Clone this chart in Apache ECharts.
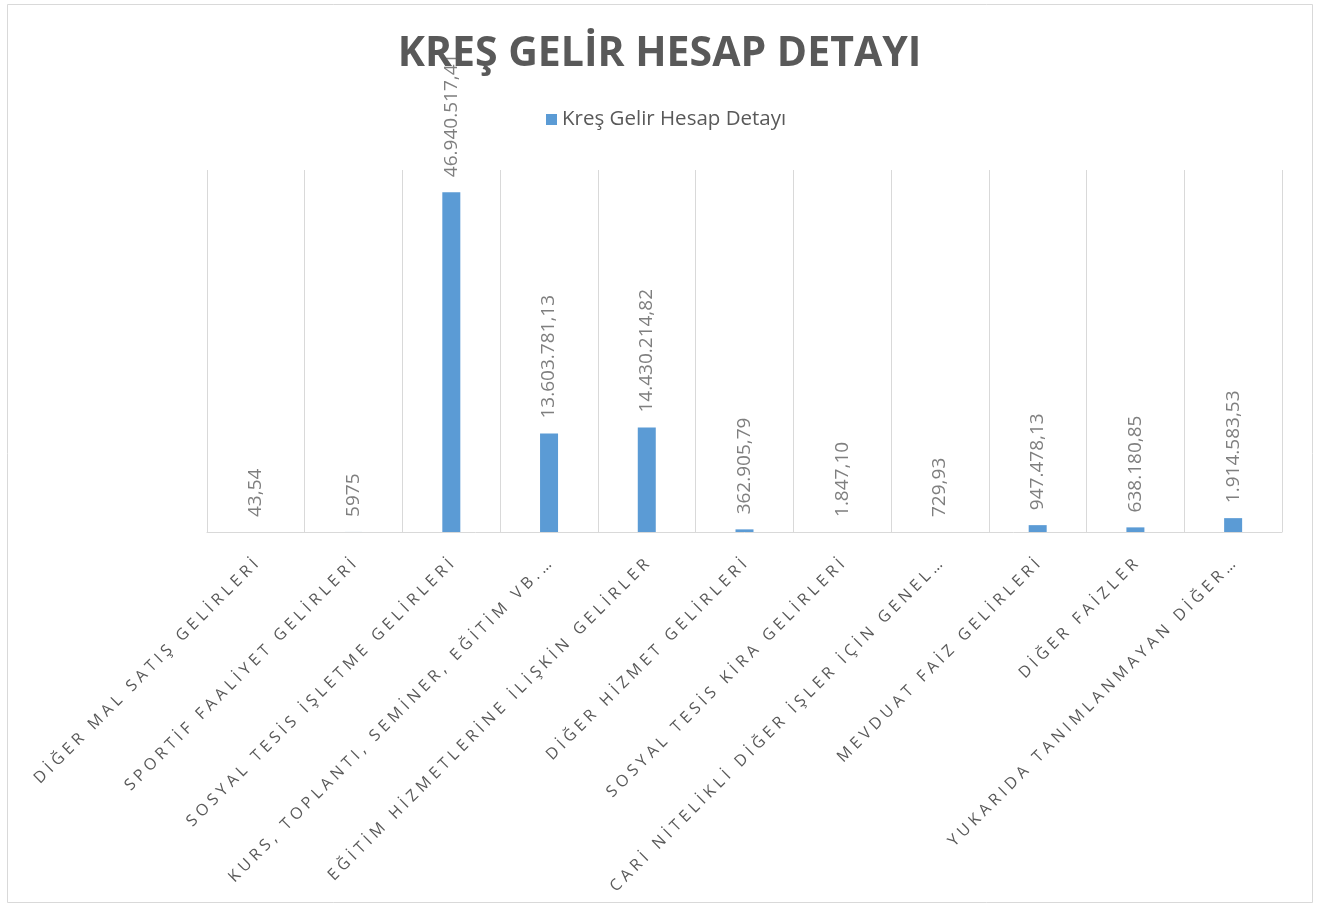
<!DOCTYPE html>
<html>
<head>
<meta charset="utf-8">
<title>Kreş Gelir Hesap Detayı</title>
<script src="https://cdn.jsdelivr.net/npm/echarts@6/dist/echarts.min.js"></script>
<style>
  html, body { margin: 0; padding: 0; background: #fff; }
  #chart { width: 1319px; height: 904px; }
</style>
</head>
<body>
<div id="chart"></div>
<script>
// kategoriler (Excel'de kesilmiş halleriyle)
const categories = [
  'DİĞER MAL SATIŞ GELİRLERİ',
  'SPORTİF FAALİYET GELİRLERİ',
  'SOSYAL TESİS İŞLETME GELİRLERİ',
  'KURS, TOPLANTI, SEMİNER, EĞİTİM VB.…',
  'EĞİTİM HİZMETLERİNE İLİŞKİN GELİRLER',
  'DİĞER HİZMET GELİRLERİ',
  'SOSYAL TESİS KİRA GELİRLERİ',
  'CARİ NİTELİKLİ DİĞER İŞLER İÇİN GENEL…',
  'MEVDUAT FAİZ GELİRLERİ',
  'DİĞER FAİZLER',
  'YUKARIDA TANIMLANMAYAN DİĞER…'
]
const values = [43.54, 5975, 46940517.41, 13603781.13, 14430214.82, 362905.79, 1847.10, 729.93, 947478.13, 638180.85, 1914583.53]
const seriesName = 'Kreş Gelir Hesap Detayı'
const titleText = 'KREŞ GELİR HESAP DETAYI'

// harf aralığı için ince boşluk
const spaced = (s, sp) => s.split('').join(sp)

const trNum = v => Number.isInteger(v)
  ? String(v)
  : v.toLocaleString('tr-TR', { minimumFractionDigits: 2, maximumFractionDigits: 2 })

const chart = echarts.init(document.getElementById('chart'))
const option = {
  backgroundColor: '#fff',
  animation: false,
  title: {
    text: titleText,
    left: 'center',
    top: 29,
    textStyle: {
      fontFamily: 'Open Sans',
      fontWeight: 'bold',
      fontSize: 41,
      color: '#595959'
    },
    z: 10
  },
  legend: {
    data: [seriesName],
    top: 104,
    left: 541,
    itemWidth: 11,
    itemHeight: 11,
    itemGap: 6,
    icon: 'rect',
    textStyle: {
      fontFamily: 'Open Sans',
      fontSize: 20.5,
      color: '#595959'
    }
  },
  grid: {
    left: 207,
    right: 37,
    top: 170,
    bottom: 372,
    outerBoundsMode: 'none'
  },
  xAxis: {
    type: 'category',
    data: categories,
    axisLine: { lineStyle: { color: '#d9d9d9', width: 1 } },
    axisTick: { show: false },
    splitLine: { show: true, lineStyle: { color: '#d9d9d9', width: 1 } },
    axisLabel: {
      interval: 0,
      rotate: 45,
      margin: 30,
      fontFamily: 'Open Sans',
      fontSize: 16,
      color: '#595959',
      formatter: v => spaced(v, '\u2009\u200A')
    }
  },
  yAxis: {
    type: 'value',
    min: 0,
    max: 50000000,
    interval: 5000000,
    show: false,
    splitLine: { show: false }
  },
  series: [{
    name: seriesName,
    type: 'bar',
    data: values,
    barWidth: 18,
    itemStyle: { color: '#5b9bd5' },
    label: {
      show: true,
      position: 'top',
      rotate: 90,
      align: 'left',
      verticalAlign: 'middle',
      distance: 15,
      fontFamily: 'Open Sans',
      fontSize: 19,
      color: '#7f7f7f',
      formatter: p => trNum(p.value)
    }
  }],
  graphic: [{
    type: 'rect',
    shape: { x: 7.5, y: 4.5, width: 1305, height: 898 },
    style: { fill: null, stroke: '#d9d9d9', lineWidth: 1 },
    silent: true
  }]
}
chart.setOption(option)
window.addEventListener('resize', () => chart.resize())
</script>
</body>
</html>
